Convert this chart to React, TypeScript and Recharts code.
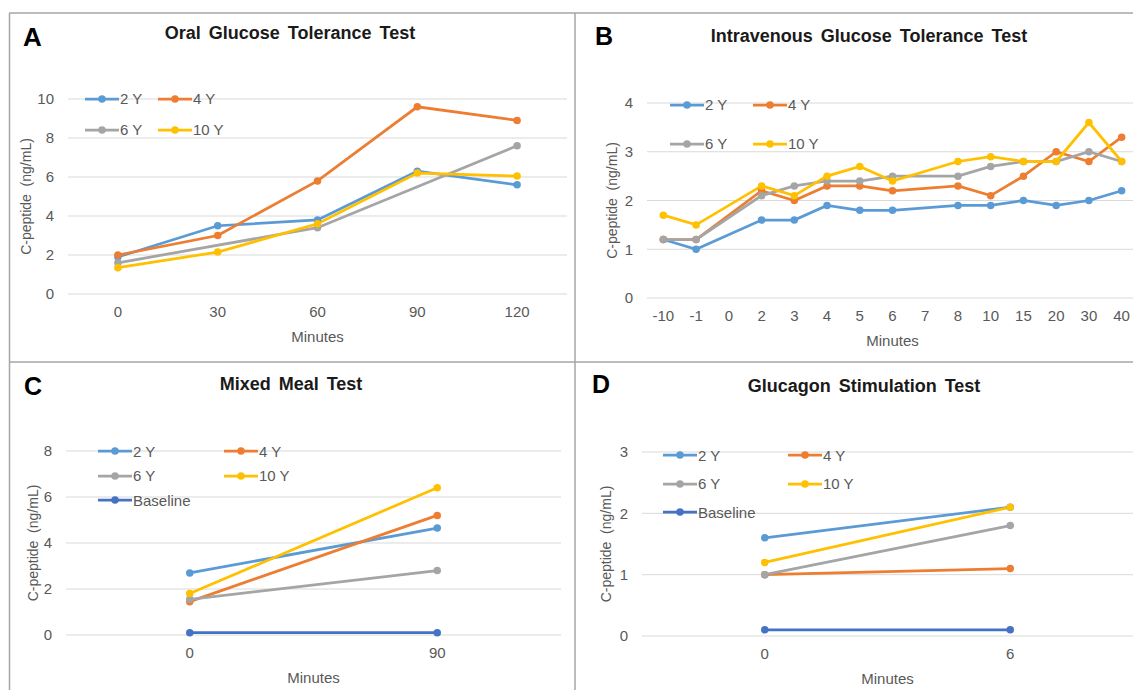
import React from "react";
import {
  CartesianGrid,
  Label,
  Legend,
  Line,
  LineChart,
  XAxis,
  YAxis
} from "recharts";

// A: oral glucose tolerance test
const ogttMinutes = ["0", "30", "60", "90", "120"];
const ogtt2Y = [1.9, 3.5, 3.8, 6.3, 5.6];
const ogtt4Y = [2.0, 3.0, 5.8, 9.6, 8.9];
const ogtt6Y = [1.6, null, 3.4, null, 7.6];
const ogtt10Y = [1.35, 2.15, 3.6, 6.2, 6.05];
const ogttTicks = [0, 2, 4, 6, 8, 10];

// B: intravenous glucose tolerance test
const ivgttMinutes = ["-10", "-1", "0", "2", "3", "4", "5", "6", "7", "8", "10", "15", "20", "30", "40"];
const ivgtt2Y = [1.2, 1.0, null, 1.6, 1.6, 1.9, 1.8, 1.8, null, 1.9, 1.9, 2.0, 1.9, 2.0, 2.2];
const ivgtt4Y = [1.2, 1.2, null, 2.2, 2.0, 2.3, 2.3, 2.2, null, 2.3, 2.1, 2.5, 3.0, 2.8, 3.3];
const ivgtt6Y = [1.2, 1.2, null, 2.1, 2.3, 2.4, 2.4, 2.5, null, 2.5, 2.7, 2.8, 2.8, 3.0, 2.8];
const ivgtt10Y = [1.7, 1.5, null, 2.3, 2.1, 2.5, 2.7, 2.4, null, 2.8, 2.9, 2.8, 2.8, 3.6, 2.8];
const ivgttTicks = [0, 1, 2, 3, 4];

// C: mixed meal test
const mmttMinutes = ["0", "90"];
const mmtt2Y = [2.7, 4.65];
const mmtt4Y = [1.45, 5.2];
const mmtt6Y = [1.55, 2.8];
const mmtt10Y = [1.8, 6.4];
const mmttBaseline = [0.1, 0.1];
const mmttTicks = [0, 2, 4, 6, 8];

// D: glucagon stimulation test
const gstMinutes = ["0", "6"];
const gst2Y = [1.6, 2.1];
const gst4Y = [1.0, 1.1];
const gst6Y = [1.0, 1.8];
const gst10Y = [1.2, 2.1];
const gstBaseline = [0.1, 0.1];
const gstTicks = [0, 1, 2, 3];

const COLORS: Record<string, string> = {
  "2 Y": "#5b9bd5",
  "4 Y": "#ed7d31",
  "6 Y": "#a5a5a5",
  "10 Y": "#ffc000",
  Baseline: "#4472c4"
};

const FONT = "'Liberation Sans', Arial, sans-serif";
const TEXT = "#595959";

type Series = { name: string; values: (number | null)[] };

function buildRows(minutes: string[], series: Series[]) {
  return minutes.map((m, i) => {
    const row: Record<string, string | number | null> = { minute: m };
    series.forEach((s) => {
      row[s.name] = s.values[i];
    });
    return row;
  });
}

function YTitle(props: any) {
  const { viewBox, cx } = props;
  const y = viewBox.y + viewBox.height / 2;
  return (
    <text
      x={cx}
      y={y}
      transform={`rotate(-90, ${cx}, ${y})`}
      textAnchor="middle"
      dominantBaseline="central"
      fill={TEXT}
      fontSize={14}
      fontFamily={FONT}
      style={{ whiteSpace: "pre" }}
    >
      C-peptide  (ng/mL)
    </text>
  );
}

function XTitle(props: any) {
  const { viewBox, dy } = props;
  return (
    <text
      x={viewBox.x + viewBox.width / 2}
      y={viewBox.y + dy}
      textAnchor="middle"
      dominantBaseline="central"
      fill={TEXT}
      fontSize={15}
      fontFamily={FONT}
    >
      Minutes
    </text>
  );
}

function SeriesLegend(props: any) {
  const { payload, colWidth, rowHeight, order } = props;
  const items = [...(payload || [])].sort(
    (a: any, b: any) => order.indexOf(a.value) - order.indexOf(b.value)
  );
  return (
    <div
      style={{
        display: "grid",
        gridTemplateColumns: `repeat(2, ${colWidth}px)`,
        gridAutoRows: rowHeight,
        fontFamily: FONT,
        fontSize: 15,
        color: TEXT
      }}
    >
      {items.map((p: any) => (
        <div key={p.value} style={{ display: "flex", alignItems: "center" }}>
          <svg width={34} height={10} style={{ marginRight: 1 }}>
            <line x1={0} x2={34} y1={5} y2={5} stroke={p.color} strokeWidth={2.75} />
            <circle cx={17} cy={5} r={3.75} fill={p.color} />
          </svg>
          <span>{p.value}</span>
        </div>
      ))}
    </div>
  );
}

type PanelProps = {
  left: number;
  top: number;
  width: number;
  height: number;
  margin: { top: number; right: number; bottom: number; left: number };
  yWidth: number;
  yTitleX: number;
  minutes: string[];
  series: Series[];
  ticks: number[];
  legendLeft: number;
  legendTop: number;
  colWidth: number;
  rowHeight: number;
};

function Panel(p: PanelProps) {
  const rows = buildRows(p.minutes, p.series);
  // Excel-style category axis: each point sits in the middle of its slot
  const plotWidth = p.width - p.margin.left - p.margin.right - p.yWidth;
  const pad = plotWidth / (2 * p.minutes.length);
  const order = p.series.map((s) => s.name);
  return (
    <div style={{ position: "absolute", left: p.left, top: p.top }}>
      <LineChart width={p.width} height={p.height} data={rows} margin={p.margin}>
        <CartesianGrid stroke="#d9d9d9" vertical={false} />
        <XAxis
          dataKey="minute"
          interval={0}
          padding={{ left: pad, right: pad }}
          axisLine={false}
          tickLine={false}
          tickSize={0}
          tickMargin={12}
          height={50}
          tick={{ fill: TEXT, fontSize: 15, fontFamily: FONT }}
        >
          <Label content={<XTitle dy={42} />} />
        </XAxis>
        <YAxis
          type="number"
          domain={[p.ticks[0], p.ticks[p.ticks.length - 1]]}
          ticks={p.ticks}
          width={p.yWidth}
          axisLine={false}
          tickLine={false}
          tickSize={0}
          tickMargin={14}
          tick={{ fill: TEXT, fontSize: 15, fontFamily: FONT }}
        >
          <Label content={<YTitle cx={p.yTitleX} />} />
        </YAxis>
        <Legend
          layout="horizontal"
          verticalAlign="middle"
          align="center"
          wrapperStyle={{ left: p.legendLeft, top: p.legendTop, width: "auto" }}
          content={<SeriesLegend colWidth={p.colWidth} rowHeight={p.rowHeight} order={order} />}
        />
        {p.series.map((s) => (
          <Line
            key={s.name}
            name={s.name}
            dataKey={s.name}
            type="linear"
            stroke={COLORS[s.name]}
            strokeWidth={2.75}
            connectNulls
            dot={{ r: 3.75, fill: COLORS[s.name], stroke: COLORS[s.name], strokeWidth: 0 }}
            activeDot={false}
            isAnimationActive={false}
          />
        ))}
      </LineChart>
    </div>
  );
}

export default function App() {
  return (
    <div
      style={{
        position: "absolute",
        left: 0,
        top: 0,
        width: 1133,
        height: 690,
        overflow: "hidden",
        background: "#fff",
        fontFamily: FONT
      }}
    >
      <Panel
        left={0}
        top={0}
        width={575}
        height={362}
        margin={{ top: 99, right: 8, bottom: 18, left: 0 }}
        yWidth={68}
        yTitleX={26}
        minutes={ogttMinutes}
        series={[
          { name: "2 Y", values: ogtt2Y },
          { name: "4 Y", values: ogtt4Y },
          { name: "6 Y", values: ogtt6Y },
          { name: "10 Y", values: ogtt10Y }
        ]}
        ticks={ogttTicks}
        legendLeft={85}
        legendTop={83}
        colWidth={73}
        rowHeight={31}
      />
      <Panel
        left={575}
        top={0}
        width={565}
        height={362}
        margin={{ top: 103, right: 2, bottom: 14, left: 0 }}
        yWidth={72}
        yTitleX={37}
        minutes={ivgttMinutes}
        series={[
          { name: "2 Y", values: ivgtt2Y },
          { name: "4 Y", values: ivgtt4Y },
          { name: "6 Y", values: ivgtt6Y },
          { name: "10 Y", values: ivgtt10Y }
        ]}
        ticks={ivgttTicks}
        legendLeft={95}
        legendTop={85}
        colWidth={83}
        rowHeight={39}
      />
      <Panel
        left={0}
        top={362}
        width={575}
        height={328}
        margin={{ top: 89, right: 14, bottom: 5, left: 0 }}
        yWidth={66}
        yTitleX={33}
        minutes={mmttMinutes}
        series={[
          { name: "2 Y", values: mmtt2Y },
          { name: "4 Y", values: mmtt4Y },
          { name: "6 Y", values: mmtt6Y },
          { name: "10 Y", values: mmtt10Y },
          { name: "Baseline", values: mmttBaseline }
        ]}
        ticks={mmttTicks}
        legendLeft={98}
        legendTop={77}
        colWidth={126}
        rowHeight={24.5}
      />
      <Panel
        left={575}
        top={362}
        width={560}
        height={328}
        margin={{ top: 90, right: 2, bottom: 4, left: 0 }}
        yWidth={67}
        yTitleX={31}
        minutes={gstMinutes}
        series={[
          { name: "2 Y", values: gst2Y },
          { name: "4 Y", values: gst4Y },
          { name: "6 Y", values: gst6Y },
          { name: "10 Y", values: gst10Y },
          { name: "Baseline", values: gstBaseline }
        ]}
        ticks={gstTicks}
        legendLeft={88}
        legendTop={79}
        colWidth={125}
        rowHeight={28.5}
      />
      <svg
        width={1133}
        height={690}
        style={{ position: "absolute", left: 0, top: 0, pointerEvents: "none" }}
      >
        <g stroke="#a6a6a6" strokeWidth={1.5}>
          <line x1={9} x2={1133} y1={13} y2={13} />
          <line x1={9.5} x2={9.5} y1={13} y2={690} />
          <line x1={575} x2={575} y1={13} y2={690} />
          <line x1={9} x2={1133} y1={362} y2={362} />
        </g>
        <g fontFamily={FONT} fontWeight="bold" fill="#000">
          <text x={23} y={46} fontSize={26}>A</text>
          <text x={595} y={45} fontSize={25}>B</text>
          <text x={24} y={395} fontSize={25}>C</text>
          <text x={592} y={393} fontSize={25}>D</text>
        </g>
        <g fontFamily={FONT} fontWeight="bold" fill="#1a1a1a" fontSize={18} textAnchor="middle" style={{ wordSpacing: 3 }}>
          <text x={290} y={38.5}>Oral Glucose Tolerance Test</text>
          <text x={869} y={42}>Intravenous Glucose Tolerance Test</text>
          <text x={291} y={389.5}>Mixed Meal Test</text>
          <text x={864} y={391.5}>Glucagon Stimulation Test</text>
        </g>
      </svg>
    </div>
  );
}
